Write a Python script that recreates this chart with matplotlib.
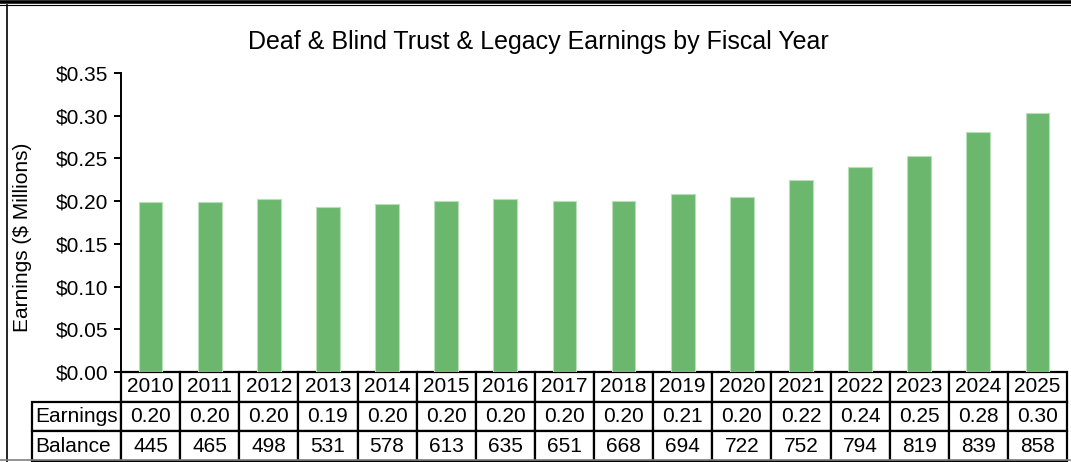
import matplotlib
matplotlib.use("Agg")
import matplotlib.pyplot as plt
from matplotlib.table import Table
from matplotlib.lines import Line2D
from matplotlib.ticker import FuncFormatter
import numpy as np

plt.rcParams['font.family'] = ['Liberation Sans', 'DejaVu Sans']

years = ['2010', '2011', '2012', '2013', '2014', '2015', '2016', '2017',
         '2018', '2019', '2020', '2021', '2022', '2023', '2024', '2025']
earnings = [0.199, 0.199, 0.202, 0.193, 0.197, 0.200, 0.202, 0.200,
            0.200, 0.208, 0.205, 0.225, 0.240, 0.253, 0.281, 0.303]
earnings_txt = ['0.20', '0.20', '0.20', '0.19', '0.20', '0.20', '0.20', '0.20',
                '0.20', '0.21', '0.20', '0.22', '0.24', '0.25', '0.28', '0.30']
balance = ['445', '465', '498', '531', '578', '613', '635', '651',
           '668', '694', '722', '752', '794', '819', '839', '858']
row_labels = ['Earnings', 'Balance']

W, H = 1071, 462
fig = plt.figure(figsize=(W / 100, H / 100), dpi=100)
ax = fig.add_axes([121 / W, 1 - 372 / H, 946 / W, 299 / H])

x = np.arange(len(years))
ax.bar(x, earnings, width=0.4, color='#6cb76e', edgecolor='#b9dfba', linewidth=0.8)
ax.set_xlim(-0.5, len(years) - 0.5)
ax.set_ylim(0, 0.35)
ax.set_yticks(np.arange(0, 0.351, 0.05))
ax.yaxis.set_major_formatter(FuncFormatter(lambda v, p: f'${v:.2f}'))
ax.tick_params(axis='y', direction='out', length=5, width=1.4, labelsize=15, pad=4)
ax.set_xticks([])
for s in ['top', 'right', 'bottom']:
    ax.spines[s].set_visible(False)
ax.spines['left'].set_linewidth(1.4)
ax.set_ylabel('Earnings ($ Millions)', fontsize=15)
ax.yaxis.set_label_coords(-0.094, (372 - 237) / 299)

fig.text(0.503, 1 - 42 / H, 'Deaf & Blind Trust & Legacy Earnings by Fiscal Year',
         ha='center', va='center', fontsize=18)

# data table under the bars
lab_w = 89 / 946
tbl = Table(ax, bbox=[-lab_w, -89 / 299, 1 + lab_w, 89 / 299])
colw = 1.0 / len(years)
rows = [earnings_txt, balance]
for j, yr in enumerate(years):
    tbl.add_cell(0, j + 1, width=colw, height=1, text=yr, loc='center')
for i, (lab, vals) in enumerate(zip(row_labels, rows)):
    c = tbl.add_cell(i + 1, 0, width=lab_w, height=1, text=lab, loc='left')
    c.PAD = 0.04
    for j, v in enumerate(vals):
        tbl.add_cell(i + 1, j + 1, width=colw, height=1, text=v, loc='center')
tbl.auto_set_font_size(False)
tbl.set_fontsize(15)
for cell in tbl.get_celld().values():
    cell.set_linewidth(1.6)
    cell.set_edgecolor('black')
ax.add_table(tbl)

# frame pieces from the spreadsheet crop
fig.add_artist(Line2D([0, 1], [1 - 1.7 / H, 1 - 1.7 / H], color='black', lw=2.6))
fig.add_artist(Line2D([0, 1], [1 - 4.9 / H, 1 - 4.9 / H], color='black', lw=0.8))
fig.add_artist(Line2D([6.5 / W, 6.5 / W], [0, 1 - 5 / H], color='black', lw=1.2))
fig.add_artist(Line2D([0, 1], [1 - 459.5 / H, 1 - 459.5 / H], color='#808080', lw=1.2))

fig.savefig('out.png', dpi=100)
